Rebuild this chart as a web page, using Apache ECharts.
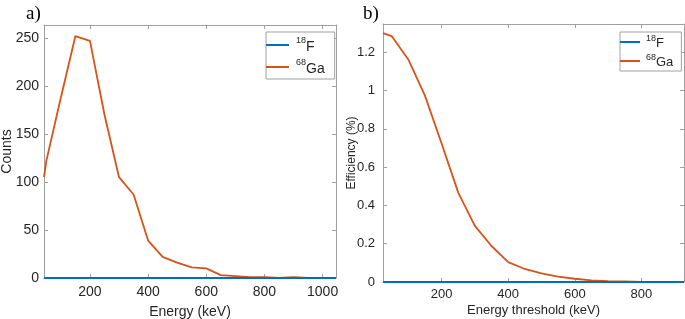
<!DOCTYPE html>
<html>
<head>
<meta charset="utf-8">
<script src="https://cdn.jsdelivr.net/npm/echarts@6/dist/echarts.min.js"></script>
<style>
  html, body { margin: 0; padding: 0; background: #fff; }
  #main { width: 685px; height: 319px; }
</style>
</head>
<body>
<div id="main"></div>
<script>
// a) counts vs energy
var energyA = [42, 50, 100, 150, 200, 250, 300, 350, 400, 450, 500, 550, 600, 650, 700, 750, 800, 850, 900, 950, 1000, 1046];
var gaCounts = [105, 122, 188, 252, 247, 170, 105, 87, 39, 22, 16, 11, 10, 3, 2, 1, 1, 0, 1, 0, 0, 0];
var fCounts = [0, 0, 0, 0, 0, 0, 0, 0, 0, 0, 0, 0, 0, 0, 0, 0, 0, 0, 0, 0, 0, 0];
var ticksXA = [200, 400, 600, 800, 1000];
var ticksYA = [0, 50, 100, 150, 200, 250];

// b) efficiency vs threshold
var thrB = [24, 50, 100, 150, 200, 250, 300, 350, 400, 450, 500, 550, 600, 650, 700, 750, 800, 850, 900, 928];
var gaEff = [1.30, 1.285, 1.163, 0.974, 0.724, 0.467, 0.293, 0.188, 0.104, 0.068, 0.045, 0.028, 0.017, 0.009, 0.005, 0.003, 0.001, 0, 0, 0];
var fEff = [0, 0, 0, 0, 0, 0, 0, 0, 0, 0, 0, 0, 0, 0, 0, 0, 0, 0, 0, 0];
var ticksXB = [200, 400, 600, 800];
var ticksYB = [0, 0.2, 0.4, 0.6, 0.8, 1, 1.2];

function pairs(xs, ys) {
    var out = [];
    for (var i = 0; i < xs.length; i++) out.push([xs[i], ys[i]]);
    return out;
}

var axisGray = '#a0a0a0';
var textCol = '#262626';
var font = 'Liberation Sans';

function makeAxis(gridIndex, pos, min, max, ticks, labelSize, margin, showLabel, name, nameGap, nameSize) {
    return {
        type: 'value',
        gridIndex: gridIndex,
        position: pos,
        min: min,
        max: max,
        name: name || '',
        nameLocation: 'middle',
        nameGap: nameGap || 0,
        nameMoveOverlap: false,
        nameTextStyle: { color: textCol, fontFamily: font, fontSize: nameSize || 13 },
        axisLine: { show: true, onZero: false, lineStyle: { color: axisGray, width: 1 } },
        axisTick: { show: true, inside: true, length: 4, customValues: ticks, lineStyle: { color: axisGray } },
        axisLabel: {
            show: showLabel, customValues: ticks, color: textCol, fontFamily: font,
            fontSize: labelSize, margin: margin,
            formatter: function (v) { return String(v); }
        },
        splitLine: { show: false }
    };
}

function legendLabel(name) {
    return name === '18F' ? '{s|18}{t|F}' : '{s|68}{t|Ga}';
}

var option = {
    animation: false,
    backgroundColor: '#fff',
    title: [
        { text: 'a)', left: 21, top: 0, textStyle: { fontFamily: 'Liberation Serif', fontSize: 19, fontWeight: 'normal', color: '#000' } },
        { text: 'b)', left: 358, top: 0, textStyle: { fontFamily: 'Liberation Serif', fontSize: 19, fontWeight: 'normal', color: '#000' } }
    ],
    grid: [
        { left: 44, top: 25, width: 292, height: 253, outerBoundsMode: 'none', containLabel: false },
        { left: 383, top: 24, width: 301, height: 258, outerBoundsMode: 'none', containLabel: false }
    ],
    xAxis: [
        makeAxis(0, 'bottom', 42, 1046, ticksXA, 14, 7, true, 'Energy (keV)', 27, 14),
        makeAxis(0, 'top', 42, 1046, ticksXA, 14, 7, false),
        makeAxis(1, 'bottom', 24, 928, ticksXB, 13, 6, true, 'Energy threshold (keV)', 22, 13),
        makeAxis(1, 'top', 24, 928, ticksXB, 13, 6, false)
    ],
    yAxis: [
        makeAxis(0, 'left', 0, 263.5, ticksYA, 14, 5, true, 'Counts', 30, 14),
        makeAxis(0, 'right', 0, 263.5, ticksYA, 14, 5, false),
        makeAxis(1, 'left', 0, 1.348, ticksYB, 13, 8, true, 'Efficiency (%)', 25, 12),
        makeAxis(1, 'right', 0, 1.348, ticksYB, 13, 8, false)
    ],
    legend: [
        {
            orient: 'vertical', left: 266, top: 32,
            backgroundColor: '#fff', borderColor: axisGray, borderWidth: 1, borderRadius: 0,
            padding: [4, 10, 3, 0], itemGap: 4, itemWidth: 23, itemHeight: 2,
            icon: 'rect',
            data: ['18F', '68Ga'],
            formatter: legendLabel,
            textStyle: {
                color: textCol, fontFamily: font, padding: [0, 0, 0, 2],
                rich: {
                    s: { fontSize: 9, fontFamily: font, color: textCol, verticalAlign: 'top', lineHeight: 18 },
                    t: { fontSize: 14, fontFamily: font, color: textCol, verticalAlign: 'bottom', lineHeight: 18 }
                }
            }
        },
        {
            orient: 'vertical', left: 620, top: 32,
            backgroundColor: '#fff', borderColor: axisGray, borderWidth: 1, borderRadius: 0,
            padding: [2, 8, 2, 0], itemGap: 3, itemWidth: 20, itemHeight: 2,
            icon: 'rect',
            data: ['18F', '68Ga'],
            formatter: legendLabel,
            textStyle: {
                color: textCol, fontFamily: font, padding: [0, 0, 0, 1],
                rich: {
                    s: { fontSize: 9, fontFamily: font, color: textCol, verticalAlign: 'top', lineHeight: 16 },
                    t: { fontSize: 13, fontFamily: font, color: textCol, verticalAlign: 'bottom', lineHeight: 16 }
                }
            }
        }
    ],
    series: [
        { name: '18F', type: 'line', xAxisIndex: 0, yAxisIndex: 0, symbol: 'none', data: pairs(energyA, fCounts), lineStyle: { color: '#0072BD', width: 1.8 }, itemStyle: { color: '#0072BD' }, z: 3 },
        { name: '68Ga', type: 'line', xAxisIndex: 0, yAxisIndex: 0, symbol: 'none', data: pairs(energyA, gaCounts), lineStyle: { color: '#D95319', width: 1.8 }, itemStyle: { color: '#D95319' }, z: 2 },
        { name: '18F', type: 'line', xAxisIndex: 2, yAxisIndex: 2, symbol: 'none', data: pairs(thrB, fEff), lineStyle: { color: '#0072BD', width: 1.8 }, itemStyle: { color: '#0072BD' }, z: 3 },
        { name: '68Ga', type: 'line', xAxisIndex: 2, yAxisIndex: 2, symbol: 'none', data: pairs(thrB, gaEff), lineStyle: { color: '#D95319', width: 1.8 }, itemStyle: { color: '#D95319' }, z: 2 }
    ]
};

var chart = echarts.init(document.getElementById('main'));
chart.setOption(option);
</script>
</body>
</html>
